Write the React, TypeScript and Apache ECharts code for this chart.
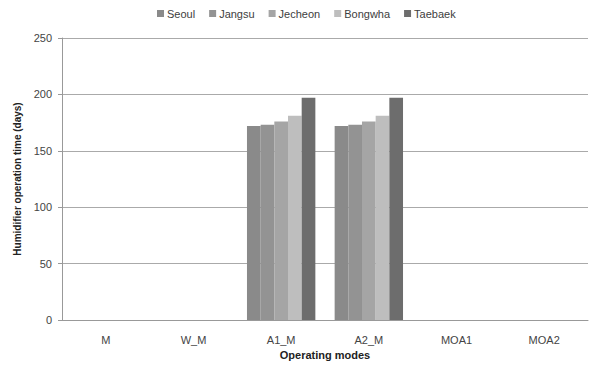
import React, { useEffect, useRef } from "react";
import * as echarts from "echarts";

const categories = ["M", "W_M", "A1_M", "A2_M", "MOA1", "MOA2"];
const seriesNames = ["Seoul", "Jangsu", "Jecheon", "Bongwha", "Taebaek"];
const seoul = [0, 0, 172, 172, 0, 0];
const jangsu = [0, 0, 173, 173, 0, 0];
const jecheon = [0, 0, 176, 176, 0, 0];
const bongwha = [0, 0, 181, 181, 0, 0];
const taebaek = [0, 0, 197, 197, 0, 0];
const colors = ["#8a8a8a", "#939393", "#a5a5a5", "#bebebe", "#6d6d6d"];

export default function App() {
  const ref = useRef<HTMLDivElement>(null);
  useEffect(() => {
    const chart = echarts.init(ref.current!, null, { renderer: "svg" });
    const data = [seoul, jangsu, jecheon, bongwha, taebaek];
    const font = "Liberation Sans";
    chart.setOption({
      animation: false,
      textStyle: { fontFamily: font },
      legend: {
        top: 3,
        left: 152,
        itemWidth: 7,
        itemHeight: 7,
        itemGap: 14,
        icon: "rect",
        textStyle: { fontSize: 11, color: "#404040", fontFamily: font, padding: [0, 0, 0, -2] },
        data: seriesNames,
      },
      grid: { left: 62, right: 1, top: 38, bottom: 46 },
      xAxis: {
        type: "category",
        data: categories,
        name: "Operating modes",
        nameLocation: "middle",
        nameGap: 29,
        nameTextStyle: { fontWeight: "bold", fontSize: 11, color: "#222", fontFamily: font },
        axisLine: { lineStyle: { color: "#999" } },
        axisTick: { show: false },
        axisLabel: { color: "#444", fontSize: 11, margin: 14 },
      },
      yAxis: {
        type: "value",
        min: 0,
        max: 250,
        interval: 50,
        name: "Humidifier operation time (days)",
        nameLocation: "middle",
        nameGap: 38,
        nameTextStyle: { fontWeight: "bold", fontSize: 10, color: "#222", fontFamily: font },
        axisLine: { show: true, lineStyle: { color: "#999" } },
        axisTick: { show: true, length: 4, lineStyle: { color: "#999" } },
        axisLabel: { color: "#444", fontSize: 11, margin: 10 },
        splitLine: { lineStyle: { color: "#aaa" } },
      },
      series: seriesNames.map((n, i) => ({
        name: n,
        type: "bar",
        data: data[i],
        barGap: "0%",
        barCategoryGap: "22%",
        itemStyle: { color: colors[i] },
      })),
    });
    return () => chart.dispose();
  }, []);
  return <div ref={ref} style={{ width: 589, height: 366, position: "absolute", left: 0, top: 0 }} />;
}
